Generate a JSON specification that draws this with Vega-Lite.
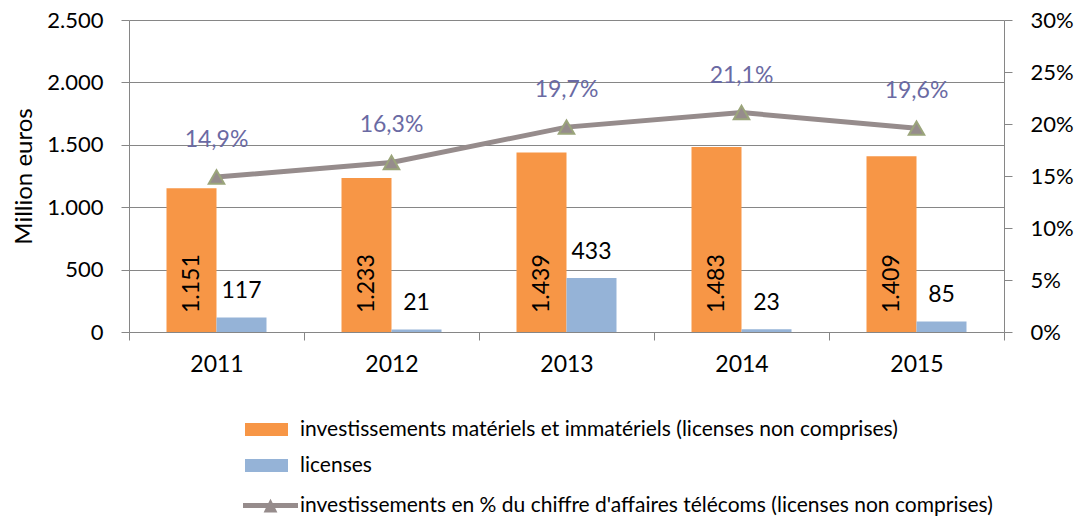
{
  "$schema": "https://vega.github.io/schema/vega-lite/v6.json",
  "width": 875,
  "height": 312,
  "autosize": {"type": "none"},
  "padding": {"left": 129, "top": 20, "right": 75, "bottom": 188},
  "config": {
    "locale": {"number": {"decimal": ",", "thousands": ".", "grouping": [3], "currency": ["", " €"]}},
    "font": "Lato",
    "view": {"stroke": null},
    "axis": {"labelFont": "Lato", "titleFont": "Lato", "labelColor": "#000000", "titleColor": "#000000", "domainColor": "#868686", "tickColor": "#868686", "gridColor": "#868686", "labelFontSize": 22, "titleFontSize": 24, "titleFontWeight": "normal", "labelOverlap": false},
    "legend": {"labelFont": "Lato", "labelFontSize": 21, "labelColor": "#000000", "padding": 0, "labelLimit": 900}
  },
  "datasets": {
    "bars": [
      {"year": 2011, "serie": "investissements matériels et immatériels (licenses non comprises)", "value": 1151},
      {"year": 2012, "serie": "investissements matériels et immatériels (licenses non comprises)", "value": 1233},
      {"year": 2013, "serie": "investissements matériels et immatériels (licenses non comprises)", "value": 1439},
      {"year": 2014, "serie": "investissements matériels et immatériels (licenses non comprises)", "value": 1483},
      {"year": 2015, "serie": "investissements matériels et immatériels (licenses non comprises)", "value": 1409},
      {"year": 2011, "serie": "licenses", "value": 117},
      {"year": 2012, "serie": "licenses", "value": 21},
      {"year": 2013, "serie": "licenses", "value": 433},
      {"year": 2014, "serie": "licenses", "value": 23},
      {"year": 2015, "serie": "licenses", "value": 85}
    ],
    "pct": [
      {"year": 2011, "pct": 0.149},
      {"year": 2012, "pct": 0.163},
      {"year": 2013, "pct": 0.197},
      {"year": 2014, "pct": 0.211},
      {"year": 2015, "pct": 0.196}
    ]
  },
  "encoding": {
    "x": {
      "field": "year", "type": "ordinal",
      "scale": {"paddingInner": 0, "paddingOuter": 0},
      "axis": {"title": null, "labelAngle": 0, "tickBand": "extent", "tickSize": 8, "labelPadding": 13, "labelFontSize": 23, "grid": false}
    }
  },
  "layer": [
    {
      "data": {"name": "bars"},
      "transform": [{"calculate": "replace(format(datum.value, ',.0f'), ',', '.')", "as": "lbl"}],
      "encoding": {
        "xOffset": {"field": "serie", "type": "nominal", "scale": {"domain": ["investissements matériels et immatériels (licenses non comprises)", "licenses"], "paddingInner": 0, "paddingOuter": 0.75}},
        "y": {"field": "value", "type": "quantitative", "scale": {"domain": [0, 2500], "nice": false},
          "axis": {"title": "Million euros", "labelExpr": "replace(format(datum.value, ',.0f'), ',', '.')", "values": [0, 500, 1000, 1500, 2000, 2500], "tickSize": 8, "labelPadding": 18, "titlePadding": 10, "grid": true, "domain": true}}
      },
      "layer": [
        {
          "mark": {"type": "bar"},
          "encoding": {
            "color": {"field": "serie", "type": "nominal",
              "scale": {"domain": ["investissements matériels et immatériels (licenses non comprises)", "licenses"], "range": ["#F79646", "#95B3D7"]},
              "legend": {"title": null, "orient": "none", "legendX": 116, "legendY": 388, "symbolType": "M-1,-0.3H1V0.3H-1Z", "symbolSize": 1849, "symbolStrokeWidth": 0, "labelOffset": 12, "rowPadding": 4}}
          }
        },
        {
          "transform": [{"filter": "datum.serie !== 'licenses'"}],
          "mark": {"type": "text", "angle": 270, "align": "left", "baseline": "middle", "fontSize": 23, "dx": 19, "color": "#000000"},
          "encoding": {
            "y": {"datum": 0},
            "text": {"field": "lbl", "type": "nominal"}
          }
        },
        {
          "transform": [{"filter": "datum.serie === 'licenses'"}],
          "mark": {"type": "text", "align": "center", "baseline": "bottom", "fontSize": 23, "dy": -14, "color": "#000000"},
          "encoding": {
            "text": {"field": "lbl", "type": "nominal"}
          }
        }
      ]
    },
    {
      "data": {"name": "pct"},
      "transform": [{"calculate": "replace(format(datum.pct, '.1%'), '.', ',')", "as": "lbl"}],
      "encoding": {
        "y": {"field": "pct", "type": "quantitative", "scale": {"domain": [0, 0.3], "nice": false},
          "axis": {"orient": "right", "title": null, "format": ".0%", "values": [0, 0.05, 0.1, 0.15, 0.2, 0.25, 0.3], "tickSize": 8, "labelPadding": 18, "grid": false}}
      },
      "layer": [
        {
          "mark": {"type": "line", "strokeWidth": 5},
          "encoding": {
            "color": {"datum": "investissements en % du chiffre d'affaires télécoms (licenses non comprises)",
              "scale": {"range": ["#968C8C"]},
              "legend": {"title": null, "orient": "none", "legendX": 114, "legendY": 458, "symbolType": "M-1,-0.09H1V0.09H-1Z M-0.25,0.25L0,-0.25L0.25,0.25Z", "symbolSize": 3025, "symbolFillColor": "#968C8C", "symbolStrokeWidth": 0, "labelOffset": 2}}
          }
        },
        {
          "mark": {"type": "point", "shape": "triangle-up", "filled": true, "fill": "#968C8C", "stroke": "#9BA57B", "strokeWidth": 2, "size": 240, "opacity": 1}
        },
        {
          "mark": {"type": "text", "align": "center", "baseline": "middle", "fontSize": 23, "dy": -37, "color": "#6A6AA3"},
          "encoding": {
            "text": {"field": "lbl", "type": "nominal"}
          }
        }
      ]
    }
  ],
  "resolve": {"scale": {"y": "independent", "color": "independent"}}
}
